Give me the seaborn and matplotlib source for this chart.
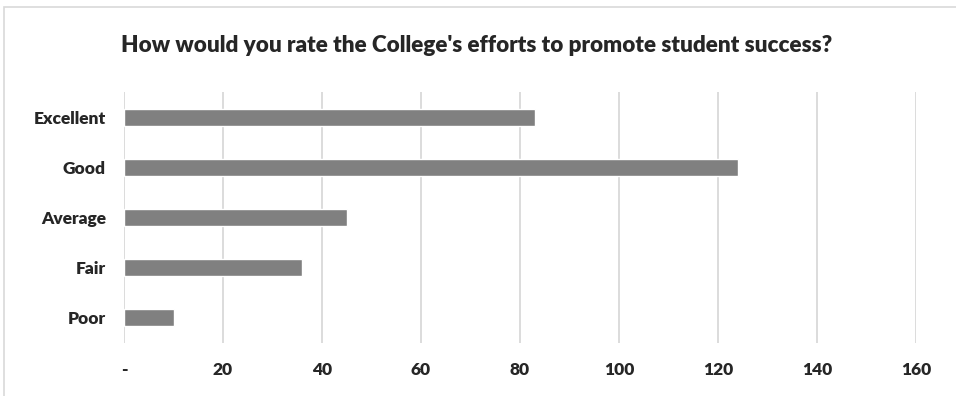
import matplotlib
matplotlib.use("Agg")
import matplotlib.pyplot as plt
import seaborn as sns
import pandas as pd
from matplotlib.patches import Rectangle

# survey answers
ratings = ["Excellent", "Good", "Average", "Fair", "Poor"]
counts = [83, 124, 45, 36, 10]
x_ticks = [0, 20, 40, 60, 80, 100, 120, 140, 160]
x_tick_labels = ["-", "20", "40", "60", "80", "100", "120", "140", "160"]
title = "How would you rate the College's efforts to promote student success?"

df = pd.DataFrame({"rating": ratings, "count": counts})

sns.set_style("white")
plt.rcParams["font.family"] = ["Lato", "DejaVu Sans"]

fig = plt.figure(figsize=(9.56, 3.96), dpi=100)
ax = fig.add_axes([124 / 956, 1 - 343 / 396, (916 - 124) / 956, (343 - 92) / 396])

sns.barplot(data=df, x="count", y="rating", order=ratings, color="#808080",
            width=0.34, saturation=1, ax=ax, zorder=3)

ax.set_xlim(0, 160)
ax.set_ylim(4.5, -0.5)
ax.set_xticks(x_ticks)
ax.set_xticklabels(x_tick_labels, fontsize=12.5, fontweight="heavy")
ax.set_yticklabels(ratings, fontsize=12.5, fontweight="heavy")
ax.tick_params(axis="x", length=0, pad=14)
ax.tick_params(axis="y", length=0, pad=13)
ax.set_xlabel("")
ax.set_ylabel("")
ax.grid(axis="x", color="#d9d9d9", linewidth=1.3, zorder=0)
for s in ax.spines.values():
    s.set_visible(False)

fig.text(477 / 956, 1 - 46 / 396, title, ha="center", va="center",
         fontsize=16.2, fontweight="heavy")

# light frame around the chart area
fig.patches.append(Rectangle((4 / 956, -0.05), 1.2, 1 - 7 / 396 + 0.05,
                             transform=fig.transFigure, fill=False,
                             edgecolor="#d9d9d9", linewidth=1.2))

fig.savefig("out.png", dpi=100)
